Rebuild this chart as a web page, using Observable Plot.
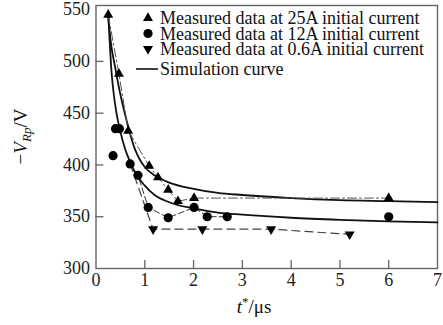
<!DOCTYPE html>
<html>
<head>
<meta charset="utf-8">
<script src="https://cdn.jsdelivr.net/npm/d3@7"></script>
<script src="https://cdn.jsdelivr.net/npm/@observablehq/plot@0.6"></script>
<style>
  body { margin: 0; background: #fff; }
  #chart { width: 443px; height: 325px; }
  #chart svg { display: block; }
</style>
</head>
<body>
<div id="chart"></div>
<script>
// Measured recovery voltage, t* in µs and −V_Rp in V
const t25 = [0.25, 0.47, 0.66, 1.09, 1.27, 1.48, 1.68, 2.01, 6.0];
const v25 = [545, 488, 433, 399, 388, 376, 365, 368, 368];
const t12 = [0.35, 0.40, 0.48, 0.70, 0.86, 1.07, 1.48, 2.01, 2.28, 2.69, 6.0];
const v12 = [409, 435, 435, 401, 390, 359, 349, 359, 350, 350, 350];
const t06 = [1.17, 2.18, 3.59, 5.2];
const v06 = [338, 338, 338, 333];

// Simulation curves (upper: 25 A, lower: 12 A)
const simUpperT = [0.25, 0.3, 0.39, 0.5, 0.6, 0.7, 0.8, 0.9, 1.0, 1.2, 1.5, 2.0, 2.5, 3.0, 4.0, 5.0, 6.0, 7.0];
const simUpperV = [545, 520, 495, 468, 448, 430, 415, 405, 398, 390, 383, 377, 373, 371, 368, 366, 365, 364];
const simLowerT = [0.25, 0.28, 0.31, 0.36, 0.42, 0.5, 0.6, 0.7, 0.8, 1.0, 1.2, 1.5, 2.0, 2.5, 3.0, 4.0, 5.0, 6.0, 7.0];
const simLowerV = [545, 520, 495, 470, 450, 432, 415, 403, 393, 380, 371, 364, 358, 354, 352, 349, 347, 345.5, 344.5];

const xTicks = [0, 1, 2, 3, 4, 5, 6, 7];
const yTicks = [300, 350, 400, 450, 500, 550];

const legendLabels = [
  "Measured data at 25A initial current",
  "Measured data at 12A initial current",
  "Measured data at 0.6A initial current",
  "Simulation curve"
];

const zip = (ts, vs) => ts.map((t, i) => ({t, v: vs[i]}));
const m25 = zip(t25, v25);
const m12 = zip(t12, v12);
const m06 = zip(t06, v06);
const simUpper = zip(simUpperT, simUpperV);
const simLower = zip(simLowerT, simLowerV);
// 12 A trace joins the circles from the knee onward; the 0.6 A trace leaves from the same knee
const m12Path = m12.slice(3, 10);
const m06Path = [m12[3], ...m06];

const W = 443, H = 325;
const mt = 5, mb = 57, ml = 95.5, mr = 6;
const fw = W - ml - mr, fh = H - mt - mb;
const axisGray = "#666";
const font = "Liberation Serif, Times New Roman, serif";

const plot = Plot.plot({
  width: W, height: H,
  marginTop: mt, marginBottom: mb, marginLeft: ml, marginRight: mr,
  style: {fontFamily: font, fontSize: "18px", background: "#fff", color: "#222", overflow: "visible"},
  x: {domain: [0, 7], ticks: xTicks, tickFormat: d3.format("d"), tickSize: 0, tickPadding: 5, label: null},
  y: {domain: [300, 554], ticks: yTicks, tickFormat: d3.format("d"), tickSize: 0, tickPadding: 6, label: null},
  marks: [
    Plot.frame({stroke: axisGray, strokeWidth: 1.4}),
    Plot.tickX(xTicks.slice(1, -1), {x: d => d, insetTop: fh - 8, stroke: axisGray, strokeWidth: 1.3}),
    Plot.tickY(yTicks.slice(1, -1), {y: d => d, insetRight: fw - 8, stroke: axisGray, strokeWidth: 1.3}),
    // simulation curves
    Plot.line(simUpper, {x: "t", y: "v", stroke: "#111", strokeWidth: 1.8, curve: "monotone-x"}),
    Plot.line(simLower, {x: "t", y: "v", stroke: "#111", strokeWidth: 1.8, curve: "monotone-x"}),
    // measured traces
    Plot.line(m25, {x: "t", y: "v", stroke: "#555", strokeWidth: 1, strokeDasharray: "9,3,2,3"}),
    Plot.line(m12Path, {x: "t", y: "v", stroke: "#333", strokeWidth: 1, strokeDasharray: "6,3"}),
    Plot.line(m06Path, {x: "t", y: "v", stroke: "#444", strokeWidth: 1.2, strokeDasharray: "8,5"}),
    // measured points
    Plot.dot(m25, {x: "t", y: "v", symbol: "triangle", r: 3.7, fill: "#000", stroke: "none"}),
    Plot.dot(m12, {x: "t", y: "v", symbol: "circle", r: 4.6, fill: "#000", stroke: "none"}),
    Plot.dot(m06, {x: "t", y: "v", symbol: "triangle", r: 3.7, rotate: 180, fill: "#000", stroke: "none"})
  ]
});

document.getElementById("chart").append(plot);

// legend and axis titles
const svg = d3.select(plot);
const legend = svg.append("g")
  .attr("font-family", font).attr("font-size", 18).attr("fill", "#111").attr("text-anchor", "start");
const rowY = [18, 33.5, 49, 69];
const symX = 148, textX = 160;
const triPath = d3.symbol(d3.symbolTriangle, Math.PI * 3.7 * 3.7)();
const circPath = d3.symbol(d3.symbolCircle, Math.PI * 4.6 * 4.6)();
legend.append("path").attr("d", triPath).attr("transform", `translate(${symX},${rowY[0]})`).attr("fill", "#000");
legend.append("path").attr("d", circPath).attr("transform", `translate(${symX},${rowY[1]})`).attr("fill", "#000");
legend.append("path").attr("d", triPath).attr("transform", `translate(${symX},${rowY[2]}) rotate(180)`).attr("fill", "#000");
legend.append("line").attr("x1", 136).attr("x2", 158).attr("y1", rowY[3]).attr("y2", rowY[3])
  .attr("stroke", "#111").attr("stroke-width", 1.6);
legendLabels.forEach((label, i) => {
  legend.append("text").attr("x", textX).attr("y", rowY[i] + 6).attr("text-anchor", "start").text(label);
});

// y axis title: −V_Rp/V
const yTitle = svg.append("text")
  .attr("transform", `translate(27,${mt + fh / 2}) rotate(-90)`)
  .attr("text-anchor", "middle")
  .attr("font-family", font).attr("font-size", 19).attr("fill", "#111");
yTitle.append("tspan").text("\u2212");
yTitle.append("tspan").attr("font-style", "italic").text("V");
yTitle.append("tspan").attr("font-style", "italic").attr("font-size", 13).attr("dy", 4).text("Rp");
yTitle.append("tspan").attr("dy", -4).text("/V");

// x axis title: t*/µs
const xTitle = svg.append("text")
  .attr("x", 254).attr("y", 313)
  .attr("text-anchor", "middle")
  .attr("font-family", font).attr("font-size", 19).attr("fill", "#111");
xTitle.append("tspan").attr("font-style", "italic").text("t");
xTitle.append("tspan").attr("font-size", 13).attr("dy", -7).text("*");
xTitle.append("tspan").attr("dy", 7).text("/\u03bcs");
</script>
</body>
</html>
